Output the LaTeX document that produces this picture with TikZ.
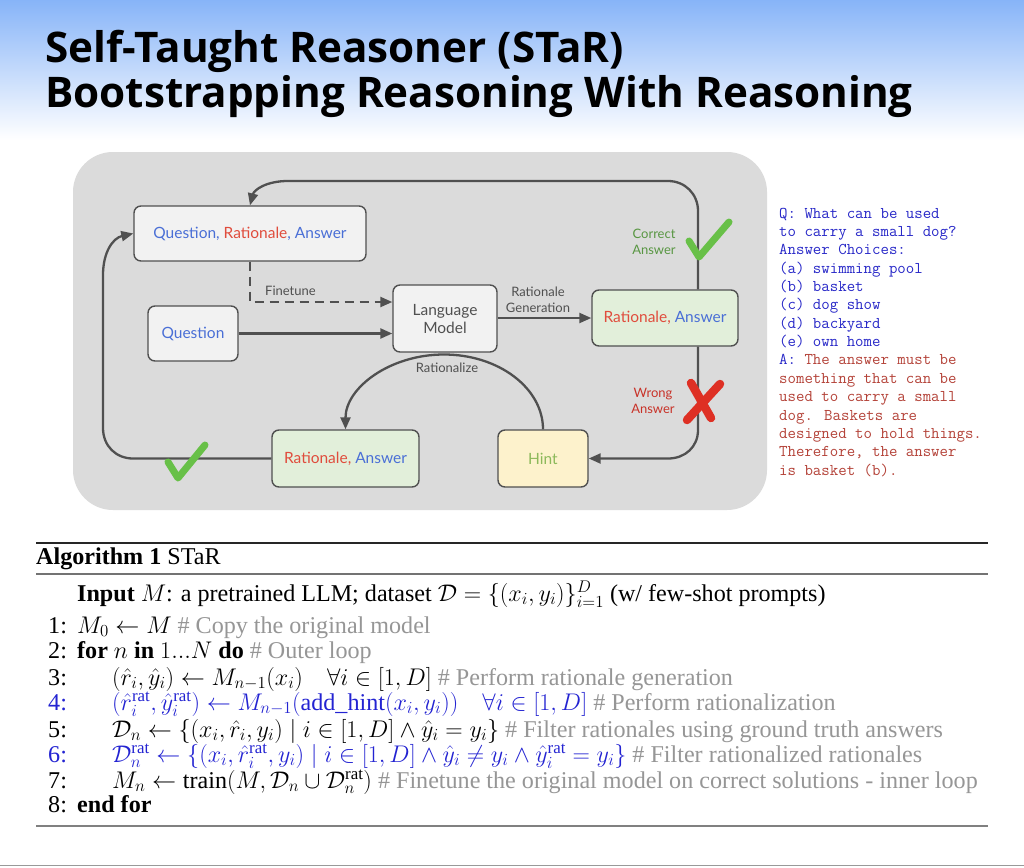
\RequirePackage{fix-cm}
\documentclass[tikz,border=0pt]{standalone}
\usepackage{amsmath}
\usepackage{fontspec}
\setmainfont{Liberation Serif}
\newfontfamily\titlefont{Open Sans}
\newfontfamily\boxfont{Lato}
\usetikzlibrary{arrows.meta}
\definecolor{panel}{RGB}{219,219,219}
\definecolor{boxgray}{RGB}{242,242,242}
\definecolor{boxgreen}{RGB}{226,239,218}
\definecolor{boxyellow}{RGB}{253,242,204}
\definecolor{edge}{RGB}{80,80,80}
\definecolor{qblue}{RGB}{74,111,214}
\definecolor{rred}{RGB}{224,76,60}
\definecolor{hintgreen}{RGB}{140,185,90}
\definecolor{okgreen}{RGB}{104,192,72}
\definecolor{corrgreen}{RGB}{88,150,66}
\definecolor{wrongred}{RGB}{200,50,40}
\definecolor{xred}{RGB}{222,48,36}
\definecolor{ttblue}{RGB}{40,40,200}
\definecolor{ttred}{RGB}{180,66,56}
\definecolor{algblue}{RGB}{35,35,210}
\definecolor{cmt}{RGB}{150,150,150}
\definecolor{skytop}{RGB}{135,180,248}
\tikzset{
  box/.style={draw=edge, line width=1.4pt, rounded corners=7pt, fill=boxgray,
    inner sep=0pt, align=center, font=\boxfont\fontsize{15.5}{18}\selectfont},
  conn/.style={draw=edge, line width=2.3pt, -{Triangle[length=12pt,width=10pt]}},
  lbl/.style={inner sep=0pt, align=center, font=\boxfont\fontsize{13}{15.5}\selectfont},
  qa/.style={inner sep=0pt, anchor=base west, font=\ttfamily\fontsize{16.4}{18}\selectfont},
  alg/.style={inner sep=0pt, anchor=base west, font=\fontsize{24.1}{28}\selectfont},
  tick/.style={draw=okgreen, line width=7pt, line cap=round, line join=round},
  cross/.style={draw=xred, line width=8.5pt, line cap=round},
  ttl/.style={inner sep=0pt, anchor=base west, font=\titlefont\bfseries\fontsize{42.2}{42}\selectfont}
}
\begin{document}
\begin{tikzpicture}[x=1pt, y=-1pt]
\useasboundingbox (0,0) rectangle (1024,867);
\fill[white] (0,0) rectangle (1024,867);
\shade[top color=skytop, bottom color=white] (0,0) rectangle (1024,140);
% title
\node[ttl] (t1) at (45,63) {Self-Taught Reasoner (STaR)};
\node[ttl] (t2) at (45,107) {Bootstrapping Reasoning With Reasoning};
% panel
\fill[panel, rounded corners=40pt] (73,152) rectangle (767,510);
% nodes
\node[box, minimum width=232pt, minimum height=55pt] (qra) at (250,233.5)
  {{\color{qblue}Question,} {\color{rred}Rationale}{\color{qblue}, Answer}};
\node[box, minimum width=90pt, minimum height=55pt] (q) at (193,333.5) {\color{qblue}Question};
\node[box, minimum width=104pt, minimum height=67pt, text=edge] (lm) at (445,318.5) {Language\\Model};
\node[box, fill=boxgreen, minimum width=146pt, minimum height=56pt] (rar) at (665,318)
  {{\color{rred}Rationale,} {\color{qblue}Answer}};
\node[box, fill=boxgreen, minimum width=147pt, minimum height=57pt] (rab) at (345.5,458.5)
  {{\color{rred}Rationale,} {\color{qblue}Answer}};
\node[box, fill=boxyellow, minimum width=90pt, minimum height=57pt] (hint) at (543,458.5) {\color{hintgreen}Hint};
% coordinates
\coordinate (vr) at (698,0);
\coordinate (ft) at (250,302);
\coordinate (lx) at (103,0);
% connectors
\draw[conn] (rar.north -| vr) -- (698,211) .. controls (698,194) and (685,181) .. (668,181)
  -- (288,181) .. controls (266,181) and (254,190) .. (qra.north);
\draw[conn] (rab.west) -- (133,458.5) .. controls (116,458.5) and (103,446) .. (103,428)
  -- (103,275) .. controls (103,252) and (113,238) .. (qra.west);
\draw[conn, dashed, dash pattern=on 9pt off 6pt] (qra.south) -- (ft) -- (ft -| lm.west);
\draw[conn] (q.east) -- (q.east -| lm.west);
\draw[conn] (lm.east |- rar.west) -- (rar.west);
\draw[conn] (rar.south -| vr) -- (698,430) .. controls (698,447) and (685,458.5) .. (668,458.5)
  -- (hint.east);
\draw[conn] (hint.north) .. controls (543,388) and (498.5,354.5) .. (444,354.5)
  .. controls (389.5,354.5) and (345.5,388) .. (rab.north);
% labels
\node[lbl, text=edge, anchor=base west] (lft) at (265,295.5) {Finetune};
\node[lbl, text=edge] (lrg) at (538,300) {Rationale\\Generation};
\node[lbl, text=edge] (lrz) at (447,368) {Rationalize};
\node[lbl, text=corrgreen] (lca) at (654,242) {Correct\\Answer};
\node[lbl, text=wrongred] (lwa) at (653,401) {Wrong\\Answer};
% marks
\draw[tick] (689,241) -- (699,257) -- (729,222);
\draw[tick] (168,462) -- (178,478) -- (205,445);
\draw[cross] (687,420) -- (720,384);
\draw[cross] (691,383) -- (711,418);
% QA text
\node[qa, text=ttblue] (qa1) at (779,218) {Q: What can be used};
\node[qa, text=ttblue] (qa2) at (779,236.4) {to carry a small dog?};
\node[qa, text=ttblue] (qa3) at (779,254.7) {Answer Choices:};
\node[qa, text=ttblue] (qa4) at (779,273.1) {(a) swimming pool};
\node[qa, text=ttblue] (qa5) at (779,291.4) {(b) basket};
\node[qa, text=ttblue] (qa6) at (779,309.8) {(c) dog show};
\node[qa, text=ttblue] (qa7) at (779,328.2) {(d) backyard};
\node[qa, text=ttblue] (qa8) at (779,346.5) {(e) own home};
\node[qa, text=ttred] (qa9) at (779,364.9) {{\color{ttblue}A:} The answer must be};
\node[qa, text=ttred] (qa10) at (779,383.2) {something that can be};
\node[qa, text=ttred] (qa11) at (779,401.6) {used to carry a small};
\node[qa, text=ttred] (qa12) at (779,420) {dog. Baskets are};
\node[qa, text=ttred] (qa13) at (779,438.3) {designed to hold things.};
\node[qa, text=ttred] (qa14) at (779,456.7) {Therefore, the answer};
\node[qa, text=ttred] (qa15) at (779,475) {is basket (b).};
% algorithm
\draw[line width=2pt, black!85] (36,543) -- (988,543);
\draw[line width=1.3pt, black!55] (36,574) -- (988,574);
\draw[line width=1.5pt, black!50] (36,826) -- (988,826);
\draw[line width=1.5pt, black!40] (0,865.5) -- (1024,865.5);
\node[alg] (ah) at (36,564) {\textbf{Algorithm 1} STaR};
\node[alg] (ain) at (77,601) {\textbf{Input} $M$: a pretrained LLM; dataset $\mathcal{D}=\{(x_i,y_i)\}_{i=1}^{D}$ (w/ few-shot prompts)};
\node[alg] (n1) at (48,633) {1:};
\node[alg] (l1) at (77,633) {$M_0\leftarrow M$ {\color{cmt}\# Copy the original model}};
\node[alg] (n2) at (48,658) {2:};
\node[alg] (l2) at (77,658) {\textbf{for} $n$ \textbf{in} $1...N$ \textbf{do} {\color{cmt}\# Outer loop}};
\node[alg] (n3) at (48,685) {3:};
\node[alg] (l3) at (112,685) {$(\hat{r}_i,\hat{y}_i)\leftarrow M_{n-1}(x_i)\quad\forall i\in[1,D]$ {\color{cmt}\# Perform rationale generation}};
\node[alg, text=algblue] (n4) at (48,710) {4:};
\node[alg, text=algblue] (l4) at (112,710) {$(\hat{r}_i^{\mathrm{rat}},\hat{y}_i^{\mathrm{rat}})\leftarrow M_{n-1}(\text{add\_hint}(x_i,y_i))\quad\forall i\in[1,D]$ {\color{cmt}\# Perform rationalization}};
\node[alg] (n5) at (48,737) {5:};
\node[alg] (l5) at (112,737) {$\mathcal{D}_n\leftarrow\{(x_i,\hat{r}_i,y_i)\mid i\in[1,D]\wedge\hat{y}_i=y_i\}$ {\color{cmt}\# Filter rationales using ground truth answers}};
\node[alg, text=algblue] (n6) at (48,762) {6:};
\node[alg, text=algblue] (l6) at (112,762) {$\mathcal{D}_n^{\mathrm{rat}}\leftarrow\{(x_i,\hat{r}_i^{\mathrm{rat}},y_i)\mid i\in[1,D]\wedge\hat{y}_i\neq y_i\wedge\hat{y}_i^{\mathrm{rat}}=y_i\}$ {\color{cmt}\# Filter rationalized rationales}};
\node[alg] (n7) at (48,788) {7:};
\node[alg] (l7) at (112,788) {$M_n\leftarrow\text{train}(M,\mathcal{D}_n\cup\mathcal{D}_n^{\mathrm{rat}})$ {\color{cmt}\# Finetune the original model on correct solutions - inner loop}};
\node[alg] (n8) at (48,812) {8:};
\node[alg] (l8) at (77,812) {\textbf{end for}};
\end{tikzpicture}
\end{document}
